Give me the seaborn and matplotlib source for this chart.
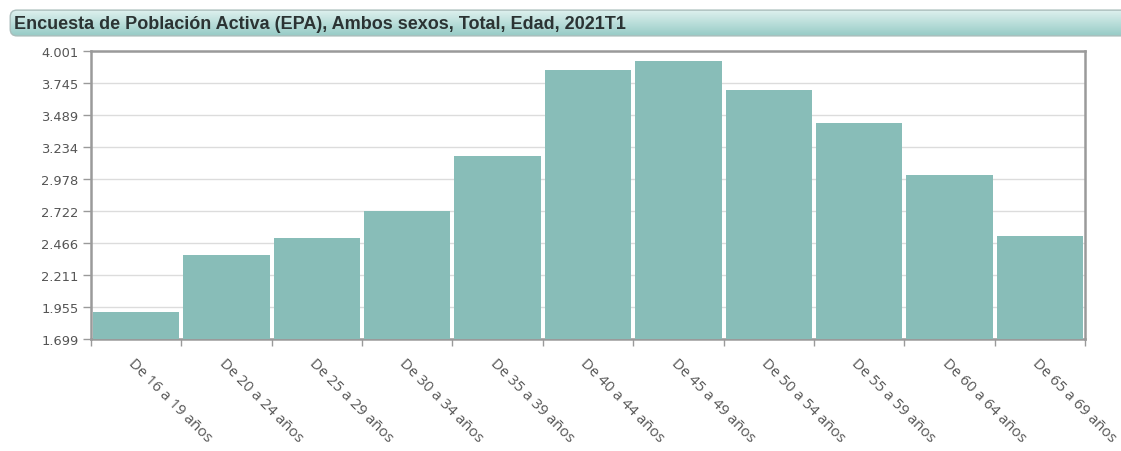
import numpy as np
import pandas as pd
import matplotlib
matplotlib.use("Agg")
import matplotlib.pyplot as plt
from matplotlib.patches import FancyBboxPatch
import seaborn as sns

# Active population (thousands) by age group, 2021 Q1
categories = ["De 16 a 19 años", "De 20 a 24 años", "De 25 a 29 años", "De 30 a 34 años",
              "De 35 a 39 años", "De 40 a 44 años", "De 45 a 49 años", "De 50 a 54 años",
              "De 55 a 59 años", "De 60 a 64 años", "De 65 a 69 años"]
values = [1917, 2373, 2507, 2723, 3163, 3853, 3921, 3693, 3427, 3011, 2521]
y_ticks = [1699, 1955, 2211, 2466, 2722, 2978, 3234, 3489, 3745, 4001]
y_tick_labels = ["1.699", "1.955", "2.211", "2.466", "2.722", "2.978", "3.234", "3.489", "3.745", "4.001"]
title = "Encuesta de Población Activa (EPA), Ambos sexos, Total, Edad, 2021T1"

W, H = 1121, 452
sns.set_theme(style="white")
plt.rcParams["font.family"] = ["DejaVu Sans"]
fig = plt.figure(figsize=(W / 100, H / 100), dpi=100)

# Title banner with vertical gradient
bx0, by0, bx1, by1 = 8, 10, 1121, 38
bax = fig.add_axes([bx0 / W, 1 - by1 / H, (bx1 - bx0) / W, (by1 - by0) / H])
bax.set_xlim(0, 1)
bax.set_ylim(0, 1)
bax.axis("off")
grad = np.linspace(0, 1, 64)[:, None]
top = np.array([0.88, 0.95, 0.94])
bot = np.array([0.58, 0.79, 0.77])
img = top[None, None, :] * (1 - grad[..., None]) + bot[None, None, :] * grad[..., None]
im = bax.imshow(img, extent=[0, 1, 0, 1], aspect="auto", origin="upper")
clip = FancyBboxPatch((0.002, 0.04), 1.2, 0.92,
                      boxstyle="round,pad=0,rounding_size=0.006",
                      transform=bax.transAxes, facecolor="none",
                      edgecolor="#a9bdbb", linewidth=1.0, mutation_aspect=40)
bax.add_patch(clip)
im.set_clip_path(clip)
bax.text(0.005, 0.48, title, transform=bax.transAxes, ha="left", va="center",
         fontsize=13.0, fontweight="bold", color="#2b3333",
         family=["Liberation Sans", "DejaVu Sans"])

# Main plot area
px0, py0, px1, py1 = 91, 52, 1085, 340
ax = fig.add_axes([px0 / W, 1 - py1 / H, (px1 - px0) / W, (py1 - py0) / H])
df = pd.DataFrame({"grupo": categories, "valor": values})
sns.barplot(data=df, x="grupo", y="valor", color="#88bdb8", saturation=1,
            width=0.955, ax=ax, zorder=3)
for p in ax.patches:
    p.set_edgecolor("none")

ax.set_ylim(y_ticks[0], y_ticks[-1])
ax.set_xlim(-0.5, len(categories) - 0.5)
ax.set_yticks(y_ticks)
ax.set_yticklabels(y_tick_labels)
ax.yaxis.grid(True, color="#dcdcdc", linewidth=1, zorder=0)
ax.xaxis.grid(False)
ax.set_xlabel("")
ax.set_ylabel("")

for s in ax.spines.values():
    s.set_visible(True)
    s.set_color("#9a9a9a")
    s.set_linewidth(1.8)

ax.tick_params(axis="y", left=True, length=6, width=1, color="#9a9a9a",
               labelsize=9.4, labelcolor="#555555", pad=3)
ax.set_xticks(range(len(categories)))
ax.set_xticklabels(categories, rotation=-45, ha="left", va="top",
                   rotation_mode="anchor", fontsize=10.8, color="#555555",
                   family=["Open Sans", "DejaVu Sans"])
ax.tick_params(axis="x", which="major", bottom=False, pad=6)
# tick marks at the category boundaries
ax.set_xticks(np.arange(-0.5, len(categories), 1.0), minor=True)
ax.xaxis.set_tick_params(which="minor", bottom=True, length=5, width=1,
                         color="#9a9a9a")

fig.savefig("out.png", dpi=100, facecolor="white")
